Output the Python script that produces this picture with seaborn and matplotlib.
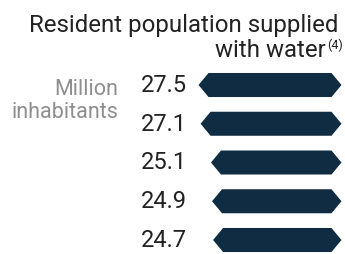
import matplotlib
matplotlib.use("Agg")
import matplotlib.pyplot as plt
import matplotlib.transforms as mtransforms
from matplotlib.patches import Polygon
import seaborn as sns
import pandas as pd

# ---- data ----
title_line1 = "Resident population supplied"
title_line2 = "with water"
footnote_mark = "(4)"
unit_line1 = "Million"
unit_line2 = "inhabitants"
categories = ["Row 1", "Row 2", "Row 3", "Row 4", "Row 5"]
values = [27.5, 27.1, 25.1, 24.9, 24.7]
value_labels = ["27.5", "27.1", "25.1", "24.9", "24.7"]

# ---- style ----
BAR = "#0f2c43"
TXT = "#222222"
GRAY = "#8e8e8e"
W, H = 345, 255
PX_PER_UNIT = 5.2
RIGHT_PX = 341.5
FW = "normal"

sns.set_theme(style="white")
plt.rcParams['font.family'] = ['Roboto', 'DejaVu Sans']

fig = plt.figure(figsize=(W / 100, H / 100), dpi=100)
fig.patch.set_facecolor("white")
ax = fig.add_axes([0, 0, RIGHT_PX / W, 1])

df = pd.DataFrame({"cat": categories, "value": values})
sns.barplot(data=df, x="value", y="cat", orient="h", color=BAR,
            saturation=1, width=0.62, ax=ax)

ax.set_xlim(RIGHT_PX / PX_PER_UNIT, 0)
spacing = 38.75
first_c = 86.0
ax.set_ylim((H - first_c) / spacing, -first_c / spacing)
ax.axis("off")

# turn rectangles into pointed (hexagonal) bars
indent = 10.0 / PX_PER_UNIT
for p in list(ax.patches):
    x0, w = p.get_x(), p.get_width()
    y0, h = p.get_y(), p.get_height()
    x1 = x0 + w
    yc = y0 + h / 2
    pts = [(x0, yc), (x0 + indent, y0), (x1 - indent, y0), (x1, yc),
           (x1 - indent, y0 + h), (x0 + indent, y0 + h)]
    ax.add_patch(Polygon(pts, closed=True, facecolor=BAR, edgecolor="none"))
    p.remove()

# value labels in a fixed column
label_x = (RIGHT_PX - 186.5) / PX_PER_UNIT
off = mtransforms.offset_copy(ax.transData, fig=fig, x=0, y=-6 * 72 / 100, units="points")
for i, lab in enumerate(value_labels):
    ax.text(label_x, i, lab, ha="right", va="baseline", fontsize=17,
            fontweight=FW, color=TXT, transform=off)

# title
fig.text(338.5 / W, 1 - 32 / H, title_line1, ha="right", va="baseline",
         fontsize=17.3, fontweight=FW, color=TXT)
fig.text(326 / W, 1 - 57 / H, title_line2, ha="right", va="baseline",
         fontsize=17.3, fontweight=FW, color=TXT)
fig.text(327 / W, 1 - 49 / H, footnote_mark, ha="left", va="baseline",
         fontsize=9, fontweight=FW, color=TXT)

# unit label
fig.text(118 / W, 1 - 95 / H, unit_line1, ha="right", va="baseline",
         fontsize=15.5, fontweight=FW, color=GRAY)
fig.text(118 / W, 1 - 118 / H, unit_line2, ha="right", va="baseline",
         fontsize=15.5, fontweight=FW, color=GRAY)

fig.savefig("out.png", dpi=100, facecolor="white")
